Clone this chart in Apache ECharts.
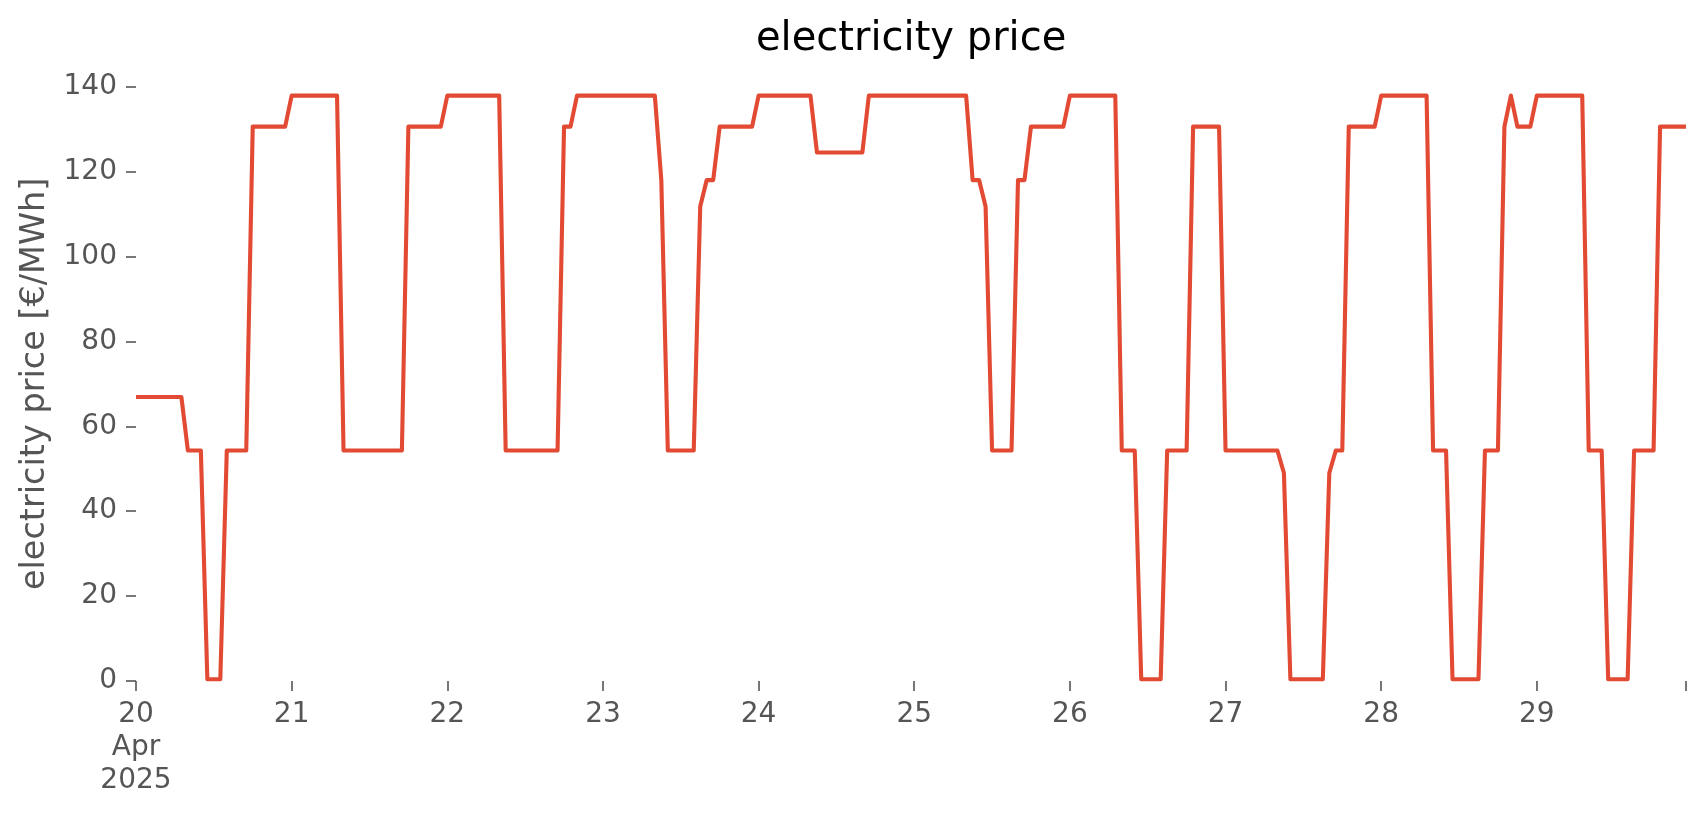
<!DOCTYPE html>
<html>
<head>
<meta charset="utf-8">
<script src="https://cdn.jsdelivr.net/npm/echarts@6/dist/echarts.min.js"></script>
<style>
  html, body { margin: 0; padding: 0; background: #ffffff; }
  #chart { width: 1706px; height: 815px; }
</style>
</head>
<body>
<div id="chart"></div>
<script>
// Hourly electricity price [€/MWh], one array per day (hours 0..23)
const apr20 = [66.9,66.9,66.9,66.9,66.9,66.9,66.9,66.9, 54.3,54.3,54.3, 0.4,0.4,0.4, 54.3,54.3,54.3,54.3, 130.6,130.6,130.6,130.6,130.6,130.6];
const apr21 = [137.9,137.9,137.9,137.9,137.9,137.9,137.9,137.9, 54.3,54.3,54.3,54.3,54.3,54.3,54.3,54.3,54.3,54.3, 130.6,130.6,130.6,130.6,130.6,130.6];
const apr22 = [137.9,137.9,137.9,137.9,137.9,137.9,137.9,137.9,137.9, 54.3,54.3,54.3,54.3,54.3,54.3,54.3,54.3,54.3, 130.6,130.6, 137.9,137.9,137.9,137.9];
const apr23 = [137.9,137.9,137.9,137.9,137.9,137.9,137.9,137.9,137.9, 118.0, 54.3,54.3,54.3,54.3,54.3, 111.8, 118.0,118.0, 130.6,130.6,130.6,130.6,130.6,130.6];
const apr24 = [137.9,137.9,137.9,137.9,137.9,137.9,137.9,137.9,137.9, 124.5,124.5,124.5,124.5,124.5,124.5,124.5,124.5, 137.9,137.9,137.9,137.9,137.9,137.9,137.9];
const apr25 = [137.9,137.9,137.9,137.9,137.9,137.9,137.9,137.9,137.9, 118.0,118.0, 111.8, 54.3,54.3,54.3,54.3, 118.0,118.0, 130.6,130.6,130.6,130.6,130.6,130.6];
const apr26 = [137.9,137.9,137.9,137.9,137.9,137.9,137.9,137.9, 54.3,54.3,54.3, 0.4,0.4,0.4,0.4, 54.3,54.3,54.3,54.3, 130.6,130.6,130.6,130.6,130.6];
const apr27 = [54.3,54.3,54.3,54.3,54.3,54.3,54.3,54.3,54.3, 49.0, 0.4,0.4,0.4,0.4,0.4,0.4, 49.0, 54.3,54.3, 130.6,130.6,130.6,130.6,130.6];
const apr28 = [137.9,137.9,137.9,137.9,137.9,137.9,137.9,137.9, 54.3,54.3,54.3, 0.4,0.4,0.4,0.4,0.4, 54.3,54.3,54.3, 130.6, 137.9, 130.6,130.6,130.6];
const apr29 = [137.9,137.9,137.9,137.9,137.9,137.9,137.9,137.9, 54.3,54.3,54.3, 0.4,0.4,0.4,0.4, 54.3,54.3,54.3,54.3, 130.6,130.6,130.6,130.6,130.6];

const days = [apr20, apr21, apr22, apr23, apr24, apr25, apr26, apr27, apr28, apr29];
const dayTickLabels = ['20\nApr\n2025', '21', '22', '23', '24', '25', '26', '27', '28', '29'];
const yTicks = [0, 20, 40, 60, 80, 100, 120, 140];

const HOUR = 3600000;
const DAY = 24 * HOUR;
const start = Date.UTC(2025, 3, 20, 0, 0, 0);
const end = start + (days.length * 24 - 1) * HOUR;

const seriesData = [];
days.forEach((vals, d) => {
  vals.forEach((v, h) => {
    seriesData.push([start + (d * 24 + h) * HOUR, v]);
  });
});

const FONT = 'DejaVu Sans';
const chart = echarts.init(document.getElementById('chart'), null, { renderer: 'canvas' });
chart.setOption({
  backgroundColor: '#ffffff',
  animation: false,
  title: {
    text: 'electricity price',
    left: 756,
    top: 20,
    padding: 0,
    textStyle: { fontFamily: FONT, fontSize: 40, fontWeight: 'normal', color: '#000000', lineHeight: 40 }
  },
  grid: { left: 136, right: 20, top: 86.7, bottom: 134, outerBoundsMode: 'none', containLabel: false },
  xAxis: {
    type: 'value',
    min: start,
    max: end,
    interval: DAY,
    axisLine: { show: false },
    splitLine: { show: false },
    axisTick: { show: true, length: 10, lineStyle: { color: '#555555', width: 1.6 } },
    axisLabel: {
      fontFamily: FONT, fontSize: 28, color: '#555555', lineHeight: 33, margin: 17,
      showMinLabel: true, showMaxLabel: true, hideOverlap: false,
      formatter: function (v) {
        const idx = Math.round((v - start) / DAY);
        if (Math.abs(v - (start + idx * DAY)) > 1000) return '';
        return dayTickLabels[idx] !== undefined ? dayTickLabels[idx] : '';
      }
    }
  },
  yAxis: {
    type: 'value',
    min: yTicks[0],
    max: yTicks[yTicks.length - 1],
    interval: yTicks[1] - yTicks[0],
    name: 'electricity price [€/MWh]',
    nameLocation: 'middle',
    nameGap: 82,
    nameTextStyle: { fontFamily: FONT, fontSize: 33.5, color: '#555555', lineHeight: 34 },
    axisLine: { show: false },
    splitLine: { show: false },
    axisTick: { show: true, length: 10, lineStyle: { color: '#555555', width: 1.6 } },
    axisLabel: { fontFamily: FONT, fontSize: 28, color: '#555555', margin: 19 }
  },
  series: [{
    type: 'line',
    data: seriesData,
    showSymbol: false,
    symbol: 'none',
    clip: false,
    lineStyle: { color: '#E24A33', width: 4.1, join: 'round', cap: 'butt' },
    itemStyle: { color: '#E24A33' }
  }]
});
</script>
</body>
</html>
